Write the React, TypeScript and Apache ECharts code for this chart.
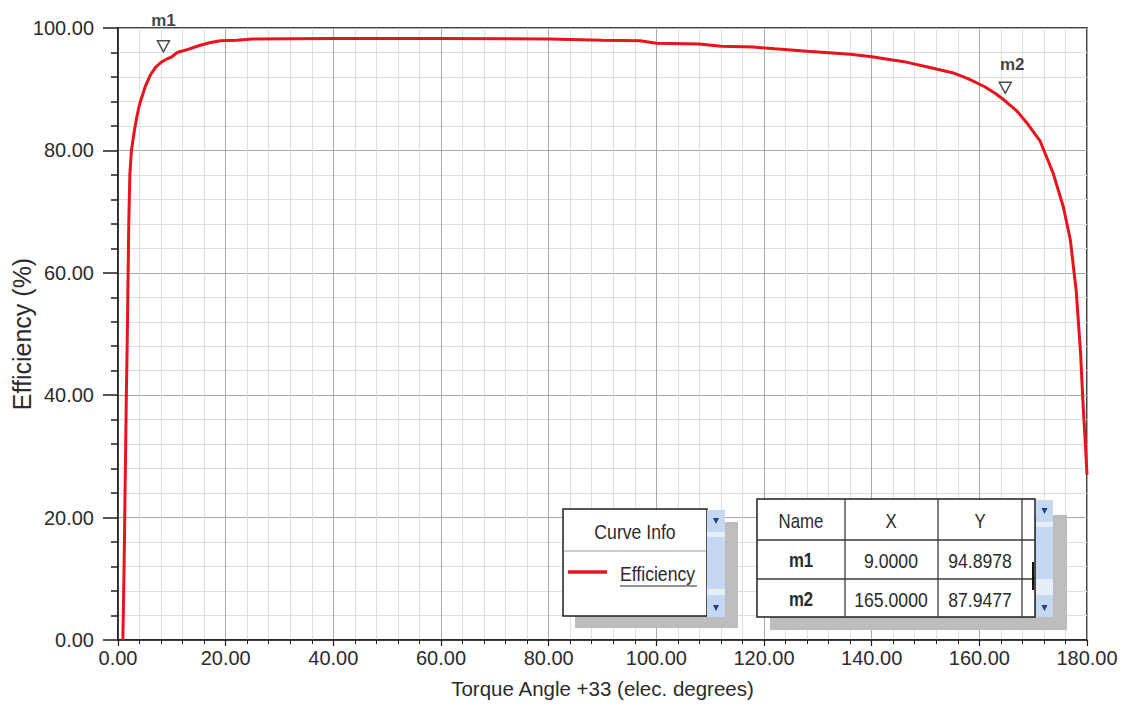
import React, { useEffect, useRef } from "react";
import * as echarts from "echarts";

// Efficiency vs. torque angle sweep
const torqueAngle = [
  0.9, 1.0, 1.1, 1.25, 1.4, 1.55, 1.7, 1.85, 2.0, 2.2, 2.5, 3.0, 3.5, 4.0, 5.0, 6.0, 7.0, 8.0, 9.0,
  10, 11, 13, 15, 17, 19, 22, 25, 40, 60, 80, 90, 97, 100, 108, 112, 118, 122, 128, 136, 140, 146,
  151, 155, 158, 161, 163, 165, 167, 169, 171.3, 173.7, 175.6, 176.9, 178, 178.8, 179.3, 179.7, 180,
];
const efficiency = [
  0, 5, 10, 20, 30, 40, 48, 58, 68, 76, 80, 83, 85.5, 87.5, 90.3, 92.3, 93.6, 94.4, 94.8978,
  95.3, 96.0, 96.5, 97.1, 97.6, 97.9, 98.0, 98.2, 98.3, 98.3, 98.2, 98.0, 97.9, 97.5, 97.4, 97.0,
  96.9, 96.6, 96.2, 95.7, 95.3, 94.5, 93.5, 92.7, 91.7, 90.4, 89.3, 87.9477, 86.4, 84.3, 81.5, 76.3,
  70.8, 65.4, 57, 47, 38, 32, 27,
];

// Markers
const markerNames = ["m1", "m2"];
const markerAngle = [9, 165];
const markerEfficiency = [94.8978, 87.9477];

// Texts
const seriesName = "Efficiency";
const xAxisTitle = "Torque Angle +33 (elec. degrees)";
const yAxisTitle = "Efficiency (%)";
const curveInfoTitle = "Curve Info";
const tableHeader = ["Name", "X", "Y"];

const FONT = "'Liberation Sans', Arial, sans-serif";
const TEXT = "#2b2b2b";

function scrollBar(x: number, y: number, w: number, h: number) {
  return [
    { type: "rect", shape: { x, y, width: w, height: h }, style: { fill: "#e6eef9" }, z: 20 },
    { type: "rect", shape: { x, y, width: w, height: 22 }, style: { fill: "#c5d8f1" }, z: 21 },
    { type: "rect", shape: { x, y: y + 27, width: w, height: 52 }, style: { fill: "#c5d8f1" }, z: 21 },
    { type: "rect", shape: { x, y: y + h - 22, width: w, height: 22 }, style: { fill: "#c5d8f1" }, z: 21 },
    {
      type: "polygon",
      shape: { points: [[x + w / 2 - 3, y + 8], [x + w / 2 + 3, y + 8], [x + w / 2, y + 14]] },
      style: { fill: "#1d3f8c" },
      z: 22,
    },
    {
      type: "polygon",
      shape: { points: [[x + w / 2 - 3, y + h - 12], [x + w / 2 + 3, y + h - 12], [x + w / 2, y + h - 6]] },
      style: { fill: "#1d3f8c" },
      z: 22,
    },
  ];
}

// Panel text, drawn slightly condensed
function txt(text: string, x: number, y: number, size: number, opts: any = {}) {
  return {
    type: "text",
    x,
    y,
    scaleX: 0.84,
    z: 25,
    style: {
      text,
      fill: TEXT,
      fontSize: size,
      fontFamily: FONT,
      fontWeight: opts.bold ? "bold" : "normal",
      textAlign: opts.align || "center",
      textVerticalAlign: "middle",
    },
  };
}

function buildGraphics() {
  const g: any[] = [];
  // Curve info panel
  g.push({ type: "rect", shape: { x: 575, y: 522, width: 163, height: 106 }, style: { fill: "#bdbdbd" }, z: 18 });
  g.push({
    type: "rect",
    shape: { x: 563, y: 509, width: 144, height: 107 },
    style: { fill: "#ffffff", stroke: "#1e1e1e", lineWidth: 1.5 },
    z: 19,
  });
  g.push(...scrollBar(707, 510, 18, 107));
  g.push(txt(curveInfoTitle, 635, 531, 21));
  g.push({ type: "line", shape: { x1: 564, y1: 551, x2: 706, y2: 551 }, style: { stroke: "#9a9a9a", lineWidth: 1 }, z: 22 });
  g.push({ type: "line", shape: { x1: 568, y1: 572, x2: 607, y2: 572 }, style: { stroke: "#e8141b", lineWidth: 3.5 }, z: 22 });
  g.push(txt(seriesName, 620, 573, 21, { align: "left" }));
  g.push({ type: "line", shape: { x1: 620, y1: 586, x2: 697, y2: 586 }, style: { stroke: TEXT, lineWidth: 1.2 }, z: 22 });

  // Marker table
  const tx = 757, ty = 499, tw = 278, th = 118;
  const cols = [757, 845, 938, 1022];
  const rows = [499, 540, 579, 617];
  g.push({ type: "rect", shape: { x: 770, y: 515, width: 297, height: 115 }, style: { fill: "#bdbdbd" }, z: 18 });
  g.push({
    type: "rect",
    shape: { x: tx, y: ty, width: tw, height: th },
    style: { fill: "#ffffff", stroke: "#1e1e1e", lineWidth: 1.5 },
    z: 19,
  });
  g.push(...scrollBar(1036, 500, 17, 117));
  cols.slice(1).forEach((cx) =>
    g.push({ type: "line", shape: { x1: cx, y1: ty, x2: cx, y2: ty + th }, style: { stroke: "#3a3a3a", lineWidth: 1.3 }, z: 22 })
  );
  rows.slice(1, 3).forEach((ry) =>
    g.push({ type: "line", shape: { x1: tx, y1: ry, x2: tx + tw, y2: ry }, style: { stroke: "#3a3a3a", lineWidth: 1.3 }, z: 22 })
  );
  g.push({ type: "line", shape: { x1: 1033, y1: 562, x2: 1033, y2: 590 }, style: { stroke: "#111", lineWidth: 2 }, z: 23 });
  const centers = [801, 891, 980];
  const rowMid = [521, 560, 599];
  tableHeader.forEach((h, i) => g.push(txt(h, centers[i], rowMid[0], 20)));
  markerNames.forEach((n, r) => {
    g.push(txt(n, centers[0], rowMid[r + 1], 20, { bold: true }));
    g.push(txt(markerAngle[r].toFixed(4), centers[1], rowMid[r + 1], 21));
    g.push(txt(markerEfficiency[r].toFixed(4), centers[2], rowMid[r + 1], 21));
  });
  return g;
}

export default function App() {
  const ref = useRef<HTMLDivElement>(null);

  useEffect(() => {
    if (!ref.current) return;
    const chart = echarts.init(ref.current, null, { renderer: "svg" });

    const markerOffsets = [[-3, -13], [-1, -14]];
    const labelOffsets = [[0, -5], [7, -3]];

    chart.setOption({
      animation: false,
      backgroundColor: "#ffffff",
      grid: {
        left: 118,
        right: 41,
        top: 28,
        bottom: 66,
        outerBoundsMode: "none",
        containLabel: false,
        show: true,
        backgroundColor: "#ffffff",
        borderColor: "#444444",
        borderWidth: 2,
      },
      xAxis: {
        type: "value",
        min: 0,
        max: 180,
        interval: 20,
        name: xAxisTitle,
        nameLocation: "middle",
        nameGap: 38,
        nameMoveOverlap: false,
        nameTextStyle: { fontSize: 20.5, color: TEXT, fontFamily: FONT },
        axisLine: { show: true, onZero: false, lineStyle: { color: "#1e1e1e", width: 1.5 } },
        axisTick: { show: true, length: 6, lineStyle: { color: "#1e1e1e", width: 1.2 } },
        minorTick: { show: true, splitNumber: 5, length: 4, lineStyle: { color: "#1e1e1e" } },
        splitLine: { show: true, lineStyle: { color: "#a9a9a9", width: 1 } },
        minorSplitLine: { show: true, lineStyle: { color: "#dedede", width: 1 } },
        axisLabel: {
          formatter: (v: number) => v.toFixed(2),
          fontSize: 20,
          color: TEXT,
          fontFamily: FONT,
          margin: 8,
        },
      },
      yAxis: {
        type: "value",
        min: 0,
        max: 100,
        interval: 20,
        name: yAxisTitle,
        nameLocation: "middle",
        nameGap: 84,
        nameMoveOverlap: false,
        nameTextStyle: { fontSize: 25, color: TEXT, fontFamily: FONT },
        axisLine: { show: true, lineStyle: { color: "#1e1e1e", width: 1.5 } },
        axisTick: { show: true, length: 15, lineStyle: { color: "#1e1e1e", width: 1.5 } },
        minorTick: { show: true, splitNumber: 5, length: 7, lineStyle: { color: "#1e1e1e", width: 1.5 } },
        splitLine: { show: true, lineStyle: { color: "#a9a9a9", width: 1 } },
        minorSplitLine: { show: true, lineStyle: { color: "#dedede", width: 1 } },
        axisLabel: {
          formatter: (v: number) => v.toFixed(2),
          fontSize: 20,
          color: TEXT,
          fontFamily: FONT,
          margin: 24,
        },
      },
      series: [
        {
          name: seriesName,
          type: "line",
          data: torqueAngle.map((a, i) => [a, efficiency[i]]),
          showSymbol: false,
          symbol: "none",
          lineStyle: { color: "#e8141b", width: 3 },
          z: 3,
        },
        {
          name: "markers",
          type: "scatter",
          symbol: "triangle",
          symbolRotate: 180,
          symbolSize: [12, 11],
          itemStyle: { color: "#ffffff", borderColor: "#1e1e1e", borderWidth: 1.5 },
          label: {
            show: true,
            position: "top",
            distance: 6,
            formatter: "{b}",
            fontSize: 17,
            fontWeight: "bold",
            color: "#111",
            fontFamily: FONT,
          },
          data: markerNames.map((n, i) => ({
            name: n,
            value: [markerAngle[i], markerEfficiency[i]],
            symbolOffset: markerOffsets[i],
            label: { offset: labelOffsets[i] },
          })),
          z: 6,
        },
      ],
      graphic: buildGraphics(),
    });

    return () => chart.dispose();
  }, []);

  return (
    <div
      ref={ref}
      style={{ position: "fixed", left: 0, top: 0, width: 1128, height: 706, background: "#fff" }}
    />
  );
}
